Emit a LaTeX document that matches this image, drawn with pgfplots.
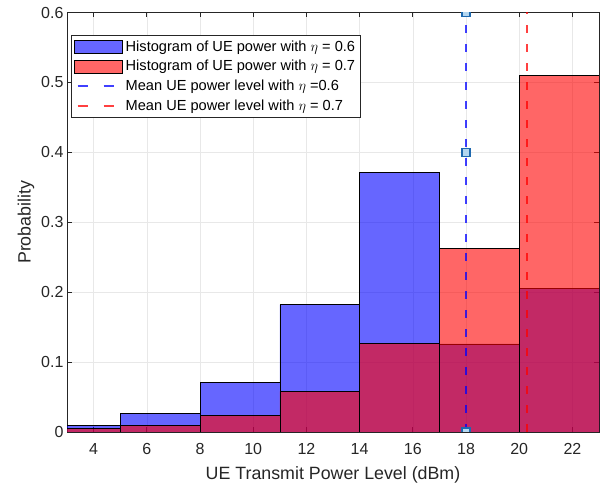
\documentclass[border=0pt]{standalone}
\usepackage{fontspec}
\setmainfont{Liberation Sans}
\usepackage{pgfplots}
\pgfplotsset{compat=1.18}
\usetikzlibrary{calc}
\definecolor{axgray}{RGB}{38,38,38}
\definecolor{tipfill}{RGB}{180,215,240}
\definecolor{tipedge}{RGB}{30,105,175}

\begin{document}
\begin{tikzpicture}
\begin{axis}[
  name=ax,
  scale only axis, width=532pt, height=419.5pt,
  xmin=3, xmax=23, ymin=0, ymax=0.6,
  xtick={4,6,8,10,12,14,16,18,20,22},
  ytick={0,0.1,0.2,0.3,0.4,0.5,0.6},
  yticklabels={0,0.1,0.2,0.3,0.4,0.5,0.6},
  tick align=inside, major tick length=5pt,
  grid=major, major grid style={gray!18, line width=0.6pt},
  axis line style={axgray, line width=0.7pt},
  tick style={axgray, line width=0.7pt},
  ticklabel style={font=\fontsize{16}{19}\selectfont, text=axgray},
  xticklabel style={yshift=-8pt},
  /pgf/number format/assume math mode=true,
  xlabel={UE Transmit Power Level (dBm)}, ylabel={Probability},
  label style={font=\fontsize{17.8}{21}\selectfont, text=axgray},
  xlabel style={yshift=-5pt},
  legend cell align=left,
  legend style={at={(0.0075,0.946)}, anchor=north west, draw=axgray,
    line width=0.6pt, fill=white, font=\fontsize{14.6}{17}\selectfont,
    inner sep=3pt, row sep=3.8pt, nodes={inner sep=2pt}},
]
% histograms, bin edges 2,5,...,23
\addplot[ybar interval, fill=blue, fill opacity=0.6, draw=black, line width=0.6pt, forget plot]
  coordinates {(2,0.009) (5,0.027) (8,0.071) (11,0.182) (14,0.371) (17,0.126) (20,0.205) (23,0.205)};
\addplot[ybar interval, fill=red, fill opacity=0.6, draw=black, line width=0.6pt, forget plot]
  coordinates {(2,0.005) (5,0.010) (8,0.024) (11,0.058) (14,0.127) (17,0.263) (20,0.510) (23,0.510)};
% mean lines
\addplot[blue, draw opacity=0.75, line width=2.5pt, dash pattern=on 8pt off 11pt, forget plot]
  coordinates {(18,0) (18,0.6)};
\addplot[red, draw opacity=0.75, line width=2.5pt, dash pattern=on 8pt off 11pt, forget plot]
  coordinates {(20.3,0) (20.3,0.6)};
% data tips
\addplot[only marks, mark=square*, mark size=4pt, clip mode=individual,
  mark options={fill=tipfill, draw=tipedge, line width=1.2pt}, forget plot]
  coordinates {(18,0) (18,0.4) (18,0.6)};

\addlegendimage{legend image code/.code={\draw[fill=blue, fill opacity=0.6, draw=black, line width=0.6pt] (0pt,-6.5pt) rectangle (48pt,6.5pt);}}
\addlegendentry{Histogram of UE power with $\eta$ = 0.6}
\addlegendimage{legend image code/.code={\draw[fill=red, fill opacity=0.6, draw=black, line width=0.6pt] (0pt,-6.5pt) rectangle (48pt,6.5pt);}}
\addlegendentry{Histogram of UE power with $\eta$ = 0.7}
\addlegendimage{legend image code/.code={\draw[blue, draw opacity=0.75, line width=2.2pt, dash pattern=on 10pt off 16pt] (3pt,0pt) -- (48pt,0pt);}}
\addlegendentry{Mean UE power level with $\eta$ =0.6}
\addlegendimage{legend image code/.code={\draw[red, draw opacity=0.75, line width=2.2pt, dash pattern=on 10pt off 16pt] (3pt,0pt) -- (48pt,0pt);}}
\addlegendentry{Mean UE power level with $\eta$ = 0.7}
\end{axis}
\pgfresetboundingbox
\path[use as bounding box] ($(ax.south west)+(-67pt,-54pt)$) rectangle ($(ax.north east)+(3pt,12.5pt)$);
\end{tikzpicture}
\end{document}
